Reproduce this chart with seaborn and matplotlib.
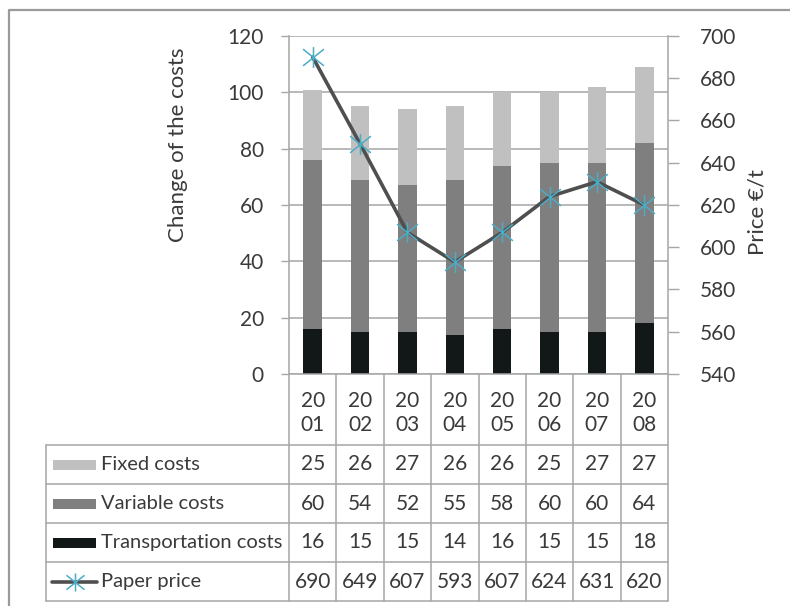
import numpy as np
import pandas as pd
import matplotlib
matplotlib.use("Agg")
import matplotlib.pyplot as plt
import matplotlib.transforms as mtransforms
from matplotlib.lines import Line2D
from matplotlib.patches import Rectangle
from matplotlib.path import Path
import seaborn as sns

# Data
years = ["2001", "2002", "2003", "2004", "2005", "2006", "2007", "2008"]
fixed_costs = [25, 26, 27, 26, 26, 25, 27, 27]
variable_costs = [60, 54, 52, 55, 58, 60, 60, 64]
transport_costs = [16, 15, 15, 14, 16, 15, 15, 18]
paper_price = [690, 649, 607, 593, 607, 624, 631, 620]

# Colours
LIGHT = "#c0c0c0"
MID = "#7f7f7f"
DARK = "#121818"
LINE = "#4f4f4f"
STAR = "#4bacc6"
GRID = "#a6a6a6"
TXT = "#3a3a3a"
FS = 15

# Excel-like star marker: an X with a vertical bar
STAR_MARKER = Path([(-1, -0.8), (1, 0.8), (-1, 0.8), (1, -0.8), (0, -1), (0, 1)],
                   [Path.MOVETO, Path.LINETO, Path.MOVETO, Path.LINETO,
                    Path.MOVETO, Path.LINETO])

sns.set_style("white")
plt.rcParams["font.family"] = ["Lato", "DejaVu Sans"]

df = pd.DataFrame({"year": years, "fixed": fixed_costs,
                   "variable": variable_costs, "transport": transport_costs})
df["var_top"] = df["transport"] + df["variable"]
df["fixed_top"] = df["var_top"] + df["fixed"]

W, H = 790, 606
fig = plt.figure(figsize=(W / 100, H / 100), dpi=100)
ax = fig.add_axes([289 / W, 1 - 374 / H, 379 / W, 338 / H])

# stacked bars drawn as overlapping cumulative totals
for col, c in [("fixed_top", LIGHT), ("var_top", MID), ("transport", DARK)]:
    sns.barplot(data=df, x="year", y=col, color=c, width=0.39, saturation=1,
                linewidth=0, ax=ax)

ax.set_xlim(-0.5, len(years) - 0.5)
ax.set_ylim(0, 120)
ax.set_yticks(range(0, 121, 20))
ax.set_xticks([])
ax.set_xlabel("")
ax.set_ylabel("")
ax.grid(axis="y", color=GRID, lw=1.1)
ax.set_axisbelow(True)
ax.tick_params(axis="y", left=True, length=6, width=1, color=GRID,
               labelsize=FS, labelcolor=TXT, pad=12)
for s in ["top", "right"]:
    ax.spines[s].set_visible(False)
for s in ["left", "bottom"]:
    ax.spines[s].set_color(GRID)
    ax.spines[s].set_linewidth(1.1)

# paper price on the secondary axis
ax2 = ax.twinx()
sns.lineplot(x=np.arange(len(years)), y=paper_price, ax=ax2, color=LINE, lw=2.6,
             marker=STAR_MARKER, markersize=15, markeredgecolor=STAR,
             markerfacecolor="none", markeredgewidth=1.1, legend=False)
ax2.set_ylim(540, 700)
ax2.set_yticks(range(540, 701, 20))
ax2.set_xlim(-0.5, len(years) - 0.5)
ax2.tick_params(axis="y", right=True, length=8, width=1, color=GRID,
                labelsize=FS, labelcolor=TXT, pad=15)
for s in ["top", "left", "bottom"]:
    ax2.spines[s].set_visible(False)
ax2.spines["right"].set_color(GRID)
ax2.spines["right"].set_linewidth(1.1)

# pixel transform (y from top) and blended one for table columns
px = mtransforms.Affine2D().scale(1 / W, -1 / H).translate(0, 1) + fig.transFigure
colx = mtransforms.blended_transform_factory(ax.transData, px)

fig.text(178, 145, "Change of the costs", transform=px, rotation=90,
         ha="center", va="center", fontsize=16, color=TXT)
fig.text(757, 212, "Price €/t", transform=px, rotation=90,
         ha="center", va="center", fontsize=16, color=TXT)

# outer frame
fig.add_artist(Line2D([9, 9, W], [H, 10, 10], transform=px, color="#9a9a9a", lw=1.6))

# data table
row_tops = [445, 484, 523, 562, 601]
for i in range(len(years) + 1):
    fig.add_artist(Line2D([i - 0.5, i - 0.5], [374, 601], transform=colx,
                          color=GRID, lw=1.1))
for y in row_tops:
    fig.add_artist(Line2D([46, 668], [y, y], transform=px, color=GRID, lw=1.1))
fig.add_artist(Line2D([46, 46], [445, 601], transform=px, color=GRID, lw=1.1))

for i, yr in enumerate(years):
    fig.text(i, 413, yr[:2] + "\n" + yr[2:], transform=colx, ha="center",
             va="center", fontsize=FS, color=TXT, linespacing=1.3)

rows = [("Fixed costs", fixed_costs, LIGHT),
        ("Variable costs", variable_costs, MID),
        ("Transportation costs", transport_costs, DARK),
        ("Paper price", paper_price, None)]
for k, (label, vals, c) in enumerate(rows):
    yc = (row_tops[k] + row_tops[k + 1]) / 2
    if c is not None:
        fig.add_artist(Rectangle((53, yc - 5), 43, 10, transform=px,
                                 facecolor=c, edgecolor="none"))
    else:
        fig.add_artist(Line2D([52, 97], [yc, yc], transform=px, color=LINE, lw=2.6))
        fig.add_artist(Line2D([75], [yc], transform=px, marker=STAR_MARKER,
                              markersize=13, markeredgecolor=STAR,
                              markerfacecolor="none", markeredgewidth=1.1,
                              linestyle="none"))
    fig.text(101, yc, label, transform=px, ha="left", va="center",
             fontsize=14.5, color=TXT)
    for i, v in enumerate(vals):
        fig.text(i, yc, str(v), transform=colx, ha="center", va="center",
                 fontsize=FS, color=TXT)

fig.savefig("out.png", dpi=100)
